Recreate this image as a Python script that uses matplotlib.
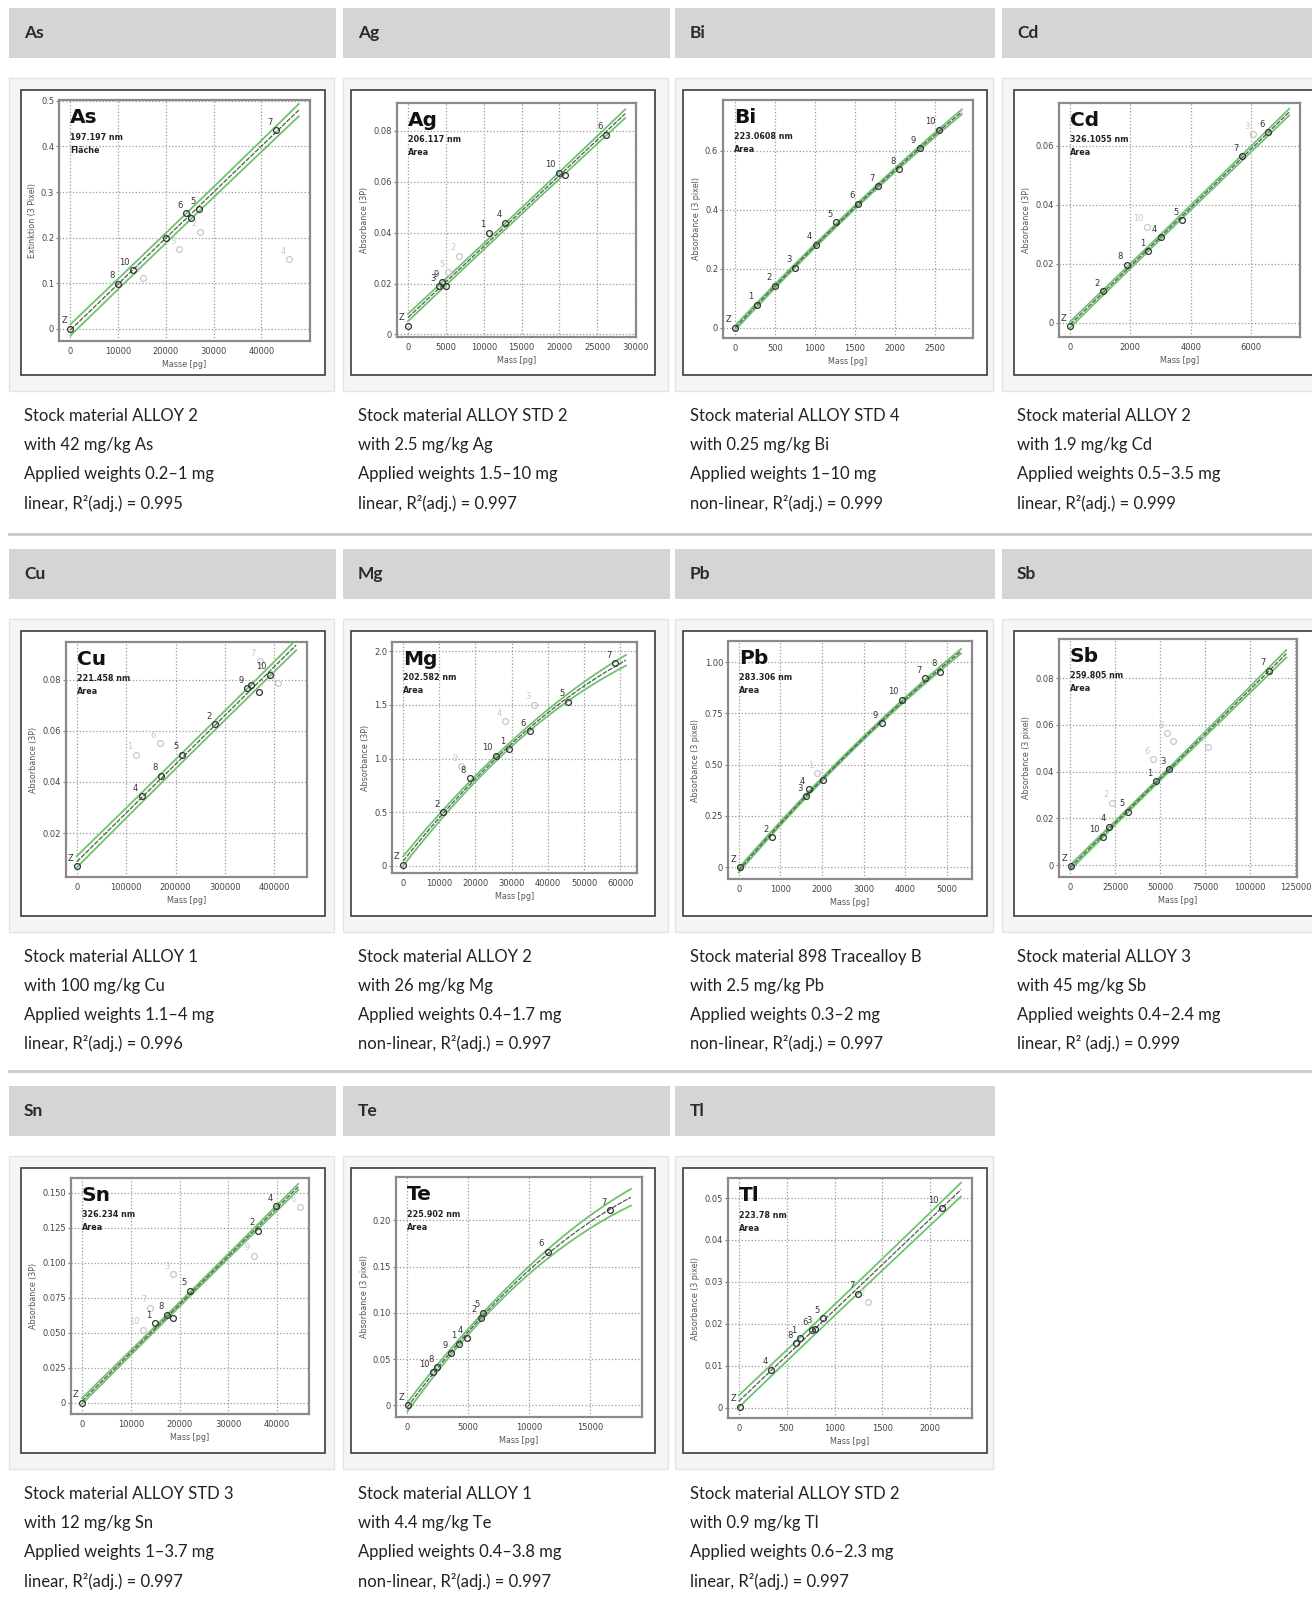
import matplotlib
matplotlib.use("Agg")
import matplotlib.pyplot as plt
import numpy as np
from matplotlib.patches import Rectangle

W, H = 1312, 1604

# calibration points: (mass pg, absorbance, label)
# *_off are the points that were switched off (drawn pale)
as_pts = [(0, 0.0, "Z"), (10000, 0.099, "8"), (13200, 0.128, "10"), (20100, 0.200, ""),
          (24300, 0.253, "6"), (25300, 0.243, ""), (26900, 0.262, "5"), (43100, 0.436, "7")]
as_off = [(15200, 0.112, "1"), (22800, 0.175, "3"), (27200, 0.213, "2"), (45900, 0.152, "4")]

ag_pts = [(0, 0.0035, "Z"), (4100, 0.019, "3"), (4500, 0.0205, "9"), (5000, 0.019, ""),
          (10700, 0.040, "1"), (12800, 0.044, "4"), (20000, 0.0635, "10"), (20700, 0.0625, ""),
          (26200, 0.0785, "6")]
ag_off = [(5300, 0.0245, "5"), (6800, 0.031, "2")]

bi_pts = [(0, 0.0, "Z"), (270, 0.079, "1"), (500, 0.143, "2"), (750, 0.203, "3"),
          (1008, 0.281, "4"), (1262, 0.357, "5"), (1542, 0.420, "6"), (1792, 0.480, "7"),
          (2054, 0.537, "8"), (2312, 0.608, "9"), (2554, 0.670, "10")]
bi_off = []

cd_pts = [(0, -0.0012, "Z"), (1105, 0.0107, "2"), (1878, 0.0197, "8"), (2600, 0.0243, "1"),
          (3005, 0.029, "4"), (3700, 0.0347, "5"), (5710, 0.0566, "7"), (6570, 0.0647, "6")]
cd_off = [(2540, 0.0325, "10"), (6080, 0.064, "3")]

cu_pts = [(0, 0.007, "Z"), (131800, 0.0344, "4"), (171000, 0.0424, "8"), (212800, 0.0506, "5"),
          (280400, 0.0627, "2"), (344600, 0.0767, "9"), (352700, 0.078, ""), (368200, 0.0752, ""),
          (390500, 0.082, "10")]
cu_off = [(120000, 0.0506, "1"), (167600, 0.0552, "6"), (370000, 0.0872, "7"), (406700, 0.0786, "3")]

mg_pts = [(0, 0.01, "Z"), (10950, 0.498, "2"), (18400, 0.818, "8"), (25760, 1.026, "10"),
          (29160, 1.088, "1"), (34960, 1.253, "6"), (45450, 1.530, "5"), (58600, 1.890, "7")]
mg_off = [(16000, 0.93, "9"), (28240, 1.35, "4"), (36250, 1.50, "3")]

pb_pts = [(24, 0.0, "Z"), (800, 0.146, "2"), (1610, 0.345, "3"), (1680, 0.381, "4"),
          (2030, 0.426, ""), (3430, 0.702, "9"), (3911, 0.816, "10"), (4475, 0.922, "7"),
          (4836, 0.954, "8")]
pb_off = [(1870, 0.458, "1")]

sb_pts = [(560, -0.0004, "Z"), (18500, 0.0121, "10"), (21700, 0.0164, "4"), (32400, 0.0229, "5"),
          (47600, 0.036, "1"), (55000, 0.041, "3"), (110600, 0.0831, "7")]
sb_off = [(23150, 0.0267, "2"), (46300, 0.0453, "6"), (53700, 0.0564, "8"), (56850, 0.0533, ""),
          (76500, 0.0507, "9")]

sn_pts = [(0, 0.0, "Z"), (15000, 0.057, "1"), (17500, 0.063, "8"), (18600, 0.061, ""),
          (22150, 0.080, "5"), (36100, 0.123, "2"), (39860, 0.1405, "4")]
sn_off = [(12600, 0.0524, "10"), (14000, 0.068, "7"), (18700, 0.092, "3"), (35200, 0.105, "9"),
          (44600, 0.140, "6")]

te_pts = [(80, 0.0, "Z"), (2080, 0.036, "10"), (2460, 0.041, "8"), (3560, 0.0566, "9"),
          (4270, 0.0667, "1"), (4870, 0.0728, "4"), (6000, 0.095, "2"), (6240, 0.100, "5"),
          (11500, 0.166, "6"), (16590, 0.211, "7")]
te_off = []

tl_pts = [(10, 0.0002, "Z"), (342, 0.009, "4"), (597, 0.0154, "8"), (638, 0.0165, "1"),
          (760, 0.0185, "6"), (800, 0.0188, "3"), (883, 0.0213, "5"), (1249, 0.0272, "7"),
          (2122, 0.0476, "10")]
tl_off = [(1354, 0.0253, "2")]

elements = ["As", "Ag", "Bi", "Cd", "Cu", "Mg", "Pb", "Sb", "Sn", "Te", "Tl"]
points_on = [as_pts, ag_pts, bi_pts, cd_pts, cu_pts, mg_pts, pb_pts, sb_pts, sn_pts, te_pts, tl_pts]
points_off = [as_off, ag_off, bi_off, cd_off, cu_off, mg_off, pb_off, sb_off, sn_off, te_off, tl_off]

wavelengths = ["197.197 nm", "206.117 nm", "223.0608 nm", "326.1055 nm", "221.458 nm",
               "202.582 nm", "283.306 nm", "259.805 nm", "326.234 nm", "225.902 nm", "223.78 nm"]
signal = ["Fläche"] + ["Area"] * 10
ylabels = ["Extinktion (3 Pixel)", "Absorbance (3P)", "Absorbance (3 pixel)", "Absorbance (3P)",
           "Absorbance (3P)", "Absorbance (3P)", "Absorbance (3 pixel)", "Absorbance (3 pixel)",
           "Absorbance (3P)", "Absorbance (3 pixel)", "Absorbance (3 pixel)"]
xlabels = ["Masse [pg]"] + ["Mass [pg]"] * 10
fit_kind = ["linear", "linear", "non-linear", "linear", "linear", "non-linear", "non-linear",
            "linear", "linear", "non-linear", "linear"]
# half width of the green confidence band at the centre, and how much it opens at the ends
bands = [0.011, 0.0012, 0.006, 0.0008, 0.0018, 0.025, 0.008, 0.0008, 0.0015, 0.003, 0.0013]
flares = [0.5, 1.0, 1.0, 1.0, 0.3, 3.0, 1.0, 3.0, 1.0, 8.0, 0.6]

x_ranges = [(-2400, 50200), (-1450, 30100), (-154, 2980), (-365, 7625), (-21600, 466000),
            (-3040, 64600), (-257, 5598), (-6100, 125900), (-2250, 46540), (-930, 19240),
            (-112, 2435)]
y_ranges = [(-0.027, 0.502), (-0.001, 0.091), (-0.034, 0.771), (-0.0049, 0.0746),
            (0.0028, 0.0948), (-0.068, 2.087), (-0.0585, 1.104), (-0.005, 0.0967),
            (-0.0079, 0.1607), (-0.0126, 0.247), (-0.0025, 0.0548)]
xtick_vals = [[0, 10000, 20000, 30000, 40000],
              [0, 5000, 10000, 15000, 20000, 25000, 30000],
              [0, 500, 1000, 1500, 2000, 2500],
              [0, 2000, 4000, 6000],
              [0, 100000, 200000, 300000, 400000],
              [0, 10000, 20000, 30000, 40000, 50000, 60000],
              [0, 1000, 2000, 3000, 4000, 5000],
              [0, 25000, 50000, 75000, 100000, 125000],
              [0, 10000, 20000, 30000, 40000],
              [0, 5000, 10000, 15000],
              [0, 500, 1000, 1500, 2000]]
ytick_vals = [[0, 0.1, 0.2, 0.3, 0.4, 0.5],
              [0, 0.02, 0.04, 0.06, 0.08],
              [0, 0.2, 0.4, 0.6],
              [0, 0.02, 0.04, 0.06],
              [0.02, 0.04, 0.06, 0.08],
              [0, 0.5, 1.0, 1.5, 2.0],
              [0, 0.25, 0.5, 0.75, 1.0],
              [0, 0.02, 0.04, 0.06, 0.08],
              [0, 0.025, 0.05, 0.075, 0.1, 0.125, 0.15],
              [0, 0.05, 0.1, 0.15, 0.2],
              [0, 0.01, 0.02, 0.03, 0.04, 0.05]]
ytick_text = [["0", "0.1", "0.2", "0.3", "0.4", "0.5"],
              ["0", "0.02", "0.04", "0.06", "0.08"],
              ["0", "0.2", "0.4", "0.6"],
              ["0", "0.02", "0.04", "0.06"],
              ["0.02", "0.04", "0.06", "0.08"],
              ["0", "0.5", "1.0", "1.5", "2.0"],
              ["0", "0.25", "0.50", "0.75", "1.00"],
              ["0", "0.02", "0.04", "0.06", "0.08"],
              ["0", "0.025", "0.050", "0.075", "0.100", "0.125", "0.150"],
              ["0", "0.05", "0.10", "0.15", "0.20"],
              ["0", "0.01", "0.02", "0.03", "0.04", "0.05"]]

captions = [
    ["Stock material ALLOY 2", "with 42 mg/kg As", "Applied weights 0.2–1 mg", "linear, R²(adj.) = 0.995"],
    ["Stock material ALLOY STD 2", "with 2.5 mg/kg Ag", "Applied weights 1.5–10 mg", "linear, R²(adj.) = 0.997"],
    ["Stock material ALLOY STD 4", "with 0.25 mg/kg Bi", "Applied weights 1–10 mg", "non-linear, R²(adj.) = 0.999"],
    ["Stock material ALLOY 2", "with 1.9 mg/kg Cd", "Applied weights 0.5–3.5 mg", "linear, R²(adj.) = 0.999"],
    ["Stock material ALLOY 1", "with 100 mg/kg Cu", "Applied weights 1.1–4 mg", "linear, R²(adj.) = 0.996"],
    ["Stock material ALLOY 2", "with 26 mg/kg Mg", "Applied weights 0.4–1.7 mg", "non-linear, R²(adj.) = 0.997"],
    ["Stock material 898 Tracealloy B", "with 2.5 mg/kg Pb", "Applied weights 0.3–2 mg", "non-linear, R²(adj.) = 0.997"],
    ["Stock material ALLOY 3", "with 45 mg/kg Sb", "Applied weights 0.4–2.4 mg", "linear, R² (adj.) = 0.999"],
    ["Stock material ALLOY STD 3", "with 12 mg/kg Sn", "Applied weights 1–3.7 mg", "linear, R²(adj.) = 0.997"],
    ["Stock material ALLOY 1", "with 4.4 mg/kg Te", "Applied weights 0.4–3.8 mg", "non-linear, R²(adj.) = 0.997"],
    ["Stock material ALLOY STD 2", "with 0.9 mg/kg Tl", "Applied weights 0.6–2.3 mg", "linear, R²(adj.) = 0.997"],
]

# ---- page layout (pixels) ----
col_x0 = [9, 343, 675, 1002]
col_x1 = [336, 670, 995, 1330]
frame_x0 = [21, 351, 683, 1014]
row_top = [8, 549, 1086]
axes_boxes = [(59, 100, 310, 341), (397, 103, 636, 337), (723, 100, 973, 338), (1059, 103, 1300, 337),
              (66, 642, 307, 877), (392, 642, 637, 873), (728, 641, 972, 879), (1059, 639, 1297, 877),
              (71, 1178, 309, 1414), (396, 1177, 642, 1417), (728, 1178, 972, 1418)]

TXT = ["Lato", "DejaVu Sans"]
GREEN = "#6cc46c"

fig = plt.figure(figsize=(W / 100, H / 100), dpi=100)
bg = fig.add_axes([0, 0, 1, 1])
bg.set_xlim(0, W)
bg.set_ylim(H, 0)
bg.axis("off")

for i, el in enumerate(elements):
    r, c = divmod(i, 4)
    top = row_top[r]
    x0, x1 = col_x0[c], col_x1[c]
    # grey header bar
    bg.add_patch(Rectangle((x0, top), x1 - x0, 50, facecolor="#d5d5d6", edgecolor="none"))
    bg.text(x0 + 15, top + 25, el, fontsize=12.5, family=TXT, weight="bold",
            color="#2a2a2a", va="center")
    # light panel behind the screenshot
    bg.add_patch(Rectangle((x0, top + 70), x1 - x0 - 2, 313, facecolor="#f5f5f5",
                           edgecolor="#e4e4e4", lw=1))
    bg.add_patch(Rectangle((frame_x0[c], top + 82), 304, 285, facecolor="white",
                           edgecolor="#3c3c3c", lw=1.2))
    for k, line in enumerate(captions[i]):
        bg.text(x0 + 15, top + 408 + 29 * k, line, fontsize=12, family=TXT,
                color="#222222", va="center")

for y in [534, 1071]:
    bg.plot([9, W], [y, y], color="#c9c9c9", lw=2)

for i, el in enumerate(elements):
    l, t, rr, b = axes_boxes[i]
    ax = fig.add_axes([l / W, 1 - b / H, (rr - l) / W, (b - t) / H])
    on = points_on[i]
    off = points_off[i]
    xs = np.array([p[0] for p in on], dtype=float)
    ys = np.array([p[1] for p in on], dtype=float)

    deg = 1 if fit_kind[i] == "linear" else 2
    coef = np.polyfit(xs, ys, deg)
    xl, xr = x_ranges[i]
    xe = xr - 0.045 * (xr - xl)
    xf = np.linspace(0, xe, 200)
    yf = np.polyval(coef, xf)
    xm = xs.mean()
    hw = bands[i] * np.sqrt(1 + flares[i] * ((xf - xm) / (xe - xm)) ** 2)
    ax.plot(xf, yf + hw, color=GREEN, lw=1.3, zorder=3)
    ax.plot(xf, yf - hw, color=GREEN, lw=1.3, zorder=3)
    ax.plot(xf, yf, color="#555555", lw=0.9, ls=(0, (4, 1)), zorder=4)

    for pts, col, z in [(off, "#c8c8c8", 5), (on, "#333333", 6)]:
        if not pts:
            continue
        ax.plot([p[0] for p in pts], [p[1] for p in pts], "o", ms=4.2, mfc="none",
                mec=col, mew=0.9, zorder=z)
        for px, py, lab in pts:
            if lab:
                ax.annotate(lab, (px, py), xytext=(-2.5, 2.5), textcoords="offset points",
                            ha="right", va="bottom", fontsize=6, color=col, zorder=z)

    ax.set_xlim(xl, xr)
    ax.set_ylim(*y_ranges[i])
    ax.set_xticks(xtick_vals[i])
    ax.set_xticklabels([str(v) for v in xtick_vals[i]])
    ax.set_yticks(ytick_vals[i])
    ax.set_yticklabels(ytick_text[i])
    ax.tick_params(axis="y", direction="out", length=2.5, width=0.8, color="#777777",
                   labelsize=6, labelcolor="#444444", pad=1)
    ax.tick_params(axis="x", length=0, labelsize=6, labelcolor="#444444", pad=4)
    ax.grid(True, ls=":", color="#9a9a9a", lw=0.9)
    for s in ax.spines.values():
        s.set_color("#8a8a8a")
        s.set_linewidth(1.6)
    ax.set_ylabel(ylabels[i], fontsize=5.8, color="#555555", labelpad=3)
    ax.set_xlabel(xlabels[i], fontsize=5.8, color="#555555", labelpad=3)

    ax.text(0.045, 0.965, el, transform=ax.transAxes, fontsize=14.5, fontweight="bold",
            va="top", ha="left", color="#111111", zorder=8)
    ax.text(0.045, 0.845, wavelengths[i], transform=ax.transAxes, fontsize=5.8,
            fontweight="bold", va="center", ha="left", color="#222222", zorder=8)
    ax.text(0.045, 0.79, signal[i], transform=ax.transAxes, fontsize=5.8,
            fontweight="bold", va="center", ha="left", color="#222222", zorder=8)

fig.savefig("out.png", dpi=100)
